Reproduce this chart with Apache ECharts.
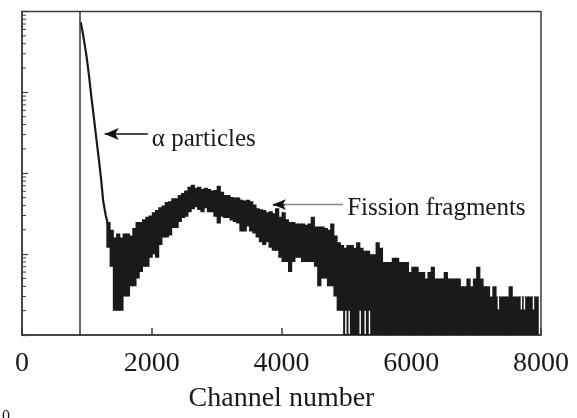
<!DOCTYPE html>
<html>
<head>
<meta charset="utf-8">
<script src="https://cdn.jsdelivr.net/npm/echarts@6/dist/echarts.min.js"></script>
<style>
  html, body { margin: 0; padding: 0; background: #ffffff; }
  #chart { width: 577px; height: 418px; }
</style>
</head>
<body>
<div id="chart"></div>
<script>
// Alpha-particle edge: steep falling part of the spectrum (channel, counts)
const alphaChannels = [905, 940, 993, 1033, 1070, 1106, 1147, 1187, 1221, 1252, 1291, 1322];
const alphaCounts   = [7370, 5280, 2870, 1600, 870, 500, 264, 143, 82, 45, 30, 24];

// Fission-fragment region: per-bin count spread (lowest and highest channel content)
const binStart = 1300;
const binWidth = 50;
const bandHigh = [
  25, 20, 16, 18, 16, 18, 18, 17, 21, 25,
  25, 27, 29, 30, 33, 35, 38, 40, 44, 45,
  49, 49, 54, 57, 61, 68, 72, 66, 68, 64,
  66, 64, 61, 62, 70, 59, 54, 54, 51, 50,
  50, 47, 46, 47, 45, 41, 37, 36, 35, 33,
  34, 32, 37, 29, 33, 27, 25, 25, 24, 24,
  24, 23, 24, 29, 22, 22, 22, 21, 20, 24,
  17, 14, 13, 12, 13, 13, 12, 14, 12, 11,
  11, 10, 10, 14, 12, 8, 8, 8, 9, 9,
  8, 8, 8, 6, 7, 7, 6, 6, 5, 6,
  7, 5, 5, 5, 6, 5, 5, 5, 5, 4,
  4, 5, 4, 5, 7, 5, 4, 4, 3, 4,
  3, 3, 3, 3, 4, 3, 3, 3, 3, 3,
  3, 3, 3
];
const bandLow = [
  12, 7, 2, 2, 2, 3, 3, 4, 4, 5,
  6, 7, 7, 9, 10, 9, 13, 16, 16, 17,
  21, 21, 25, 28, 29, 33, 36, 38, 35, 33,
  37, 33, 33, 29, 24, 29, 28, 28, 26, 25,
  24, 19, 19, 22, 19, 18, 16, 14, 13, 14,
  12, 11, 11, 9, 8, 8, 6, 8, 9, 9,
  8, 8, 8, 8, 7, 4, 5, 5, 4, 4,
  3, 2, 2, 1, 1, 1, 1, 1, 1, 1,
  1, 1, 1, 1, 1, 1, 1, 1, 1, 1,
  1, 1, 1, 1, 1, 1, 1, 1, 1, 1,
  1, 1, 1, 1, 1, 1, 1, 1, 1, 1,
  1, 1, 1, 1, 1, 1, 1, 1, 1, 1,
  1, 1, 1, 1, 1, 1, 1, 1, 1, 1,
  1, 1, 1
];

// Single empty channels inside the band: [channel, count below, count above]
const emptyChannels = [4992, 5043, 5213, 5290, 5356, 7343, 7698, 7745, 7884];
const emptyFrom     = [1, 1, 1, 1, 1, 2, 2, 2, 2];
const emptyTo       = [2, 2, 2, 2, 2, 3, 3, 3, 3];

// Discriminator threshold channel
const thresholdChannel = 890;

// Axis range
const channelMax = 8000;
const channelStep = 2000;
const countMin = 1;
const countMax = 10000;

const SERIF = "'Liberation Serif', 'Times New Roman', serif";
const INK = '#1a1a1a';
const AXIS = '#3c3c3c';

// log-axis minor ticks at 2..9 x 10^k
const minorTickValues = [];
for (let d = countMin; d < countMax; d *= 10) {
  for (let m = 2; m <= 9; m++) minorTickValues.push(m * d);
}

const bandData = bandHigh.map((h, i) => [
  binStart + i * binWidth,
  binStart + (i + 1) * binWidth,
  bandLow[i],
  h
]);

const chart = echarts.init(document.getElementById('chart'), null, { renderer: 'canvas' });

chart.setOption({
  animation: false,
  backgroundColor: '#ffffff',
  grid: {
    left: 22, right: 36, top: 11.5, bottom: 74,
    show: true, borderColor: AXIS, borderWidth: 1.5, backgroundColor: 'transparent'
  },
  xAxis: {
    type: 'value',
    min: 0, max: channelMax, interval: channelStep,
    axisLine: { lineStyle: { color: AXIS, width: 1.5 } },
    axisTick: { inside: true, length: 7, lineStyle: { color: AXIS, width: 1.5 } },
    axisLabel: {
      fontFamily: SERIF, fontSize: 28, color: INK, margin: 15,
      formatter: v => String(v)
    },
    splitLine: { show: false },
    name: 'Channel number',
    nameLocation: 'middle',
    nameGap: 50,
    nameTextStyle: { fontFamily: SERIF, fontSize: 28, color: INK }
  },
  yAxis: {
    type: 'log', logBase: 10,
    min: countMin, max: countMax,
    axisLine: { lineStyle: { color: AXIS, width: 1.5 } },
    axisTick: { inside: true, length: 6, lineStyle: { color: AXIS, width: 1.2 } },
    axisLabel: { show: false },
    splitLine: { show: false }
  },
  series: [
    {
      // fission-fragment band: one filled column per bin
      type: 'custom',
      name: 'band',
      silent: true,
      z: 2,
      data: bandData,
      encode: { x: [0, 1], y: [2, 3] },
      clip: true,
      renderItem: function (params, api) {
        const a = api.coord([api.value(0), api.value(3)]);
        const b = api.coord([api.value(1), api.value(2)]);
        return {
          type: 'rect',
          shape: { x: a[0], y: a[1], width: b[0] - a[0] + 1, height: b[1] - a[1] },
          style: { fill: INK }
        };
      }
    },
    {
      // isolated empty channels cut through the band
      type: 'custom',
      name: 'gaps',
      silent: true,
      z: 3,
      data: emptyChannels.map((c, i) => [c, emptyFrom[i], emptyTo[i]]),
      encode: { x: 0, y: [1, 2] },
      clip: true,
      renderItem: function (params, api) {
        const lo = api.coord([api.value(0), api.value(1) * 1.03]);
        const hi = api.coord([api.value(0), api.value(2)]);
        return {
          type: 'rect',
          shape: { x: lo[0] - 0.7, y: hi[1], width: 1.4, height: lo[1] - hi[1] },
          style: { fill: '#ffffff' }
        };
      }
    },
    {
      type: 'line',
      name: 'alpha',
      data: alphaChannels.map((c, i) => [c, alphaCounts[i]]),
      showSymbol: false,
      silent: true,
      z: 4,
      lineStyle: { color: INK, width: 2.2 },
      markLine: {
        silent: true,
        animation: false,
        symbol: 'none',
        data: [
          {
            xAxis: thresholdChannel,
            lineStyle: { color: '#333333', width: 1.5, type: 'solid' },
            label: { show: false }
          },
          [
            {
              coord: [1275, 306],
              symbol: 'arrow', symbolSize: [9, 14],
              lineStyle: { color: '#111111', width: 1.6, type: 'solid' },
              label: {
                show: true, position: 'end', formatter: 'α particles',
                fontFamily: SERIF, fontSize: 25, color: INK, distance: 4, offset: [0, 5]
              }
            },
            { coord: [1939, 306], symbol: 'none' }
          ],
          [
            {
              coord: [3868, 41],
              symbol: 'none',
              lineStyle: { color: '#8a8a8a', width: 1.3, type: 'solid' },
              label: {
                show: true, position: 'end', formatter: 'Fission fragments',
                fontFamily: SERIF, fontSize: 25, color: INK, distance: 4, offset: [0, 4]
              }
            },
            { coord: [4950, 41], symbol: 'none' }
          ],
          [
            {
              coord: [3868, 41],
              symbol: 'arrow', symbolSize: [8, 13],
              lineStyle: { color: '#111111', width: 1.5, type: 'solid' },
              label: { show: false }
            },
            { coord: [4050, 41], symbol: 'none' }
          ]
        ]
      }
    },
    {
      // minor ticks of the log count axis
      type: 'custom',
      name: 'minorTicks',
      silent: true,
      data: minorTickValues.map(v => [0, v]),
      encode: { x: 0, y: 1 },
      clip: false,
      renderItem: function (params, api) {
        const p = api.coord([0, api.value(1)]);
        return {
          type: 'line',
          shape: { x1: p[0], y1: p[1], x2: p[0] + 4, y2: p[1] },
          style: { stroke: AXIS, lineWidth: 1 }
        };
      }
    }
  ],
  graphic: [
    {
      type: 'text', left: 2, top: 409, silent: true,
      style: { text: '0', fontFamily: SERIF, fontSize: 16, fill: INK }
    }
  ]
});
</script>
</body>
</html>
